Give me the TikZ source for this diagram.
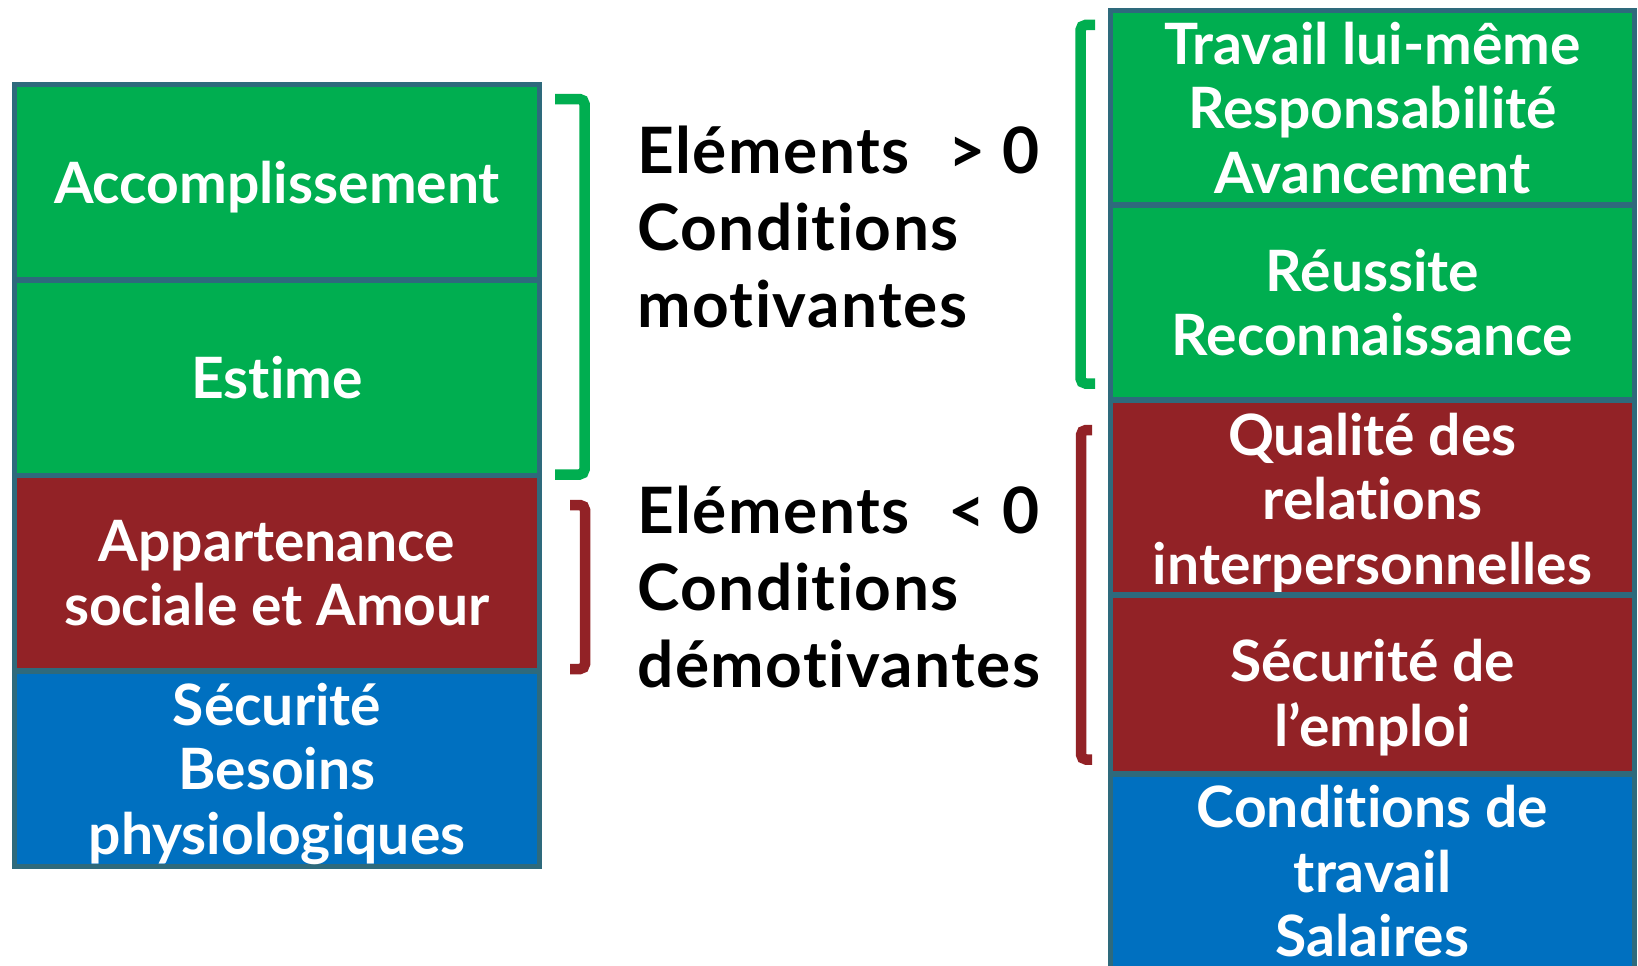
\documentclass[tikz,border=0pt]{standalone}
\usepackage{fontspec}
\setmainfont[Ligatures=NoCommon]{Lato}
\newfontfamily\verdictfont[Ligatures=NoCommon,LetterSpace=2.3]{Lato}
\usetikzlibrary{positioning}
\definecolor{lvlgreen}{RGB}{0,174,80}
\definecolor{lvlred}{RGB}{146,34,38}
\definecolor{lvlblue}{RGB}{0,112,192}
\definecolor{lvledge}{RGB}{46,106,124}

\tikzset{
  level/.style={draw=lvledge,line width=5.5pt,text=white,align=center,
    font=\fontsize{57}{64.5}\selectfont\bfseries,inner sep=0pt,outer sep=0pt,
    minimum width=525pt,minimum height=195.5pt},
  factor/.style={level,minimum width=524pt},
  caption/.style={text=white,align=center,inner sep=0pt,
    font=\fontsize{57}{64.5}\selectfont\bfseries},
  verdict/.style={anchor=west,align=left,inner sep=0pt,
    font=\verdictfont\fontsize{64}{77}\selectfont\bfseries},
  bracket/.style={line width=10.5pt,rounded corners=5pt}
}

\begin{document}
\begin{tikzpicture}[x=1pt,y=-1pt]
  \clip (0,0) rectangle (1638,966);
  \fill[white] (0,0) rectangle (1638,966);
  % Maslow
  \node[level,fill=lvlgreen,text depth=0pt] (accompl) at (277,182.25) {Accomplissement};
  \node[level,fill=lvlgreen,below=0pt of accompl] (estime) {Estime};
  \node[level,fill=lvlred,below=0pt of estime] (appart) {Appartenance\\sociale et Amour};
  \node[level,fill=lvlblue,below=0pt of appart,text depth=0pt] (secur) {Sécurité\\Besoins\\physiologiques};
  % Herzberg
  \node[factor,fill=lvlgreen,minimum height=194.5pt] (travail) at (1372.5,107.75) {Travail lui-même\\Responsabilité\\Avancement};
  \node[factor,fill=lvlgreen,minimum height=195pt,below=0pt of travail] (reussite) {Réussite\\Reconnaissance};
  \node[factor,fill=lvlred,minimum height=195pt,below=0pt of reussite,
    label={[caption,yshift=-6pt]center:{Qualité des\\relations\\interpersonnelles}}] (qualite) {};
  \node[factor,fill=lvlred,minimum height=179pt,below=0pt of qualite,
    label={[caption,yshift=-13pt]center:{Sécurité de\\l’emploi}}] (emploi) {};
  \node[factor,fill=lvlblue,minimum height=195pt,below=0pt of emploi] (salaires) {Conditions de\\travail\\Salaires};
  % brackets
  \draw[bracket,lvlgreen] (555,99) -| (584.5,474.5) -- (555,474.5);
  \draw[bracket,lvlred] (570,505) -| (585,669) -- (570,669);
  \draw[bracket,lvlgreen] (1095,25) -| (1080.5,383.5) -- (1095,383.5);
  \draw[bracket,lvlred] (1092,430) -| (1081,759.5) -- (1092,759.5);
  % middle text
  \node[verdict] (motiv) at (637,227) {Eléments\hspace{0.6em}> 0\\Conditions\\motivantes};
  \node[verdict] (demotiv) at (637,587) {Eléments\hspace{0.6em}< 0\\Conditions\\démotivantes};
\end{tikzpicture}
\end{document}
